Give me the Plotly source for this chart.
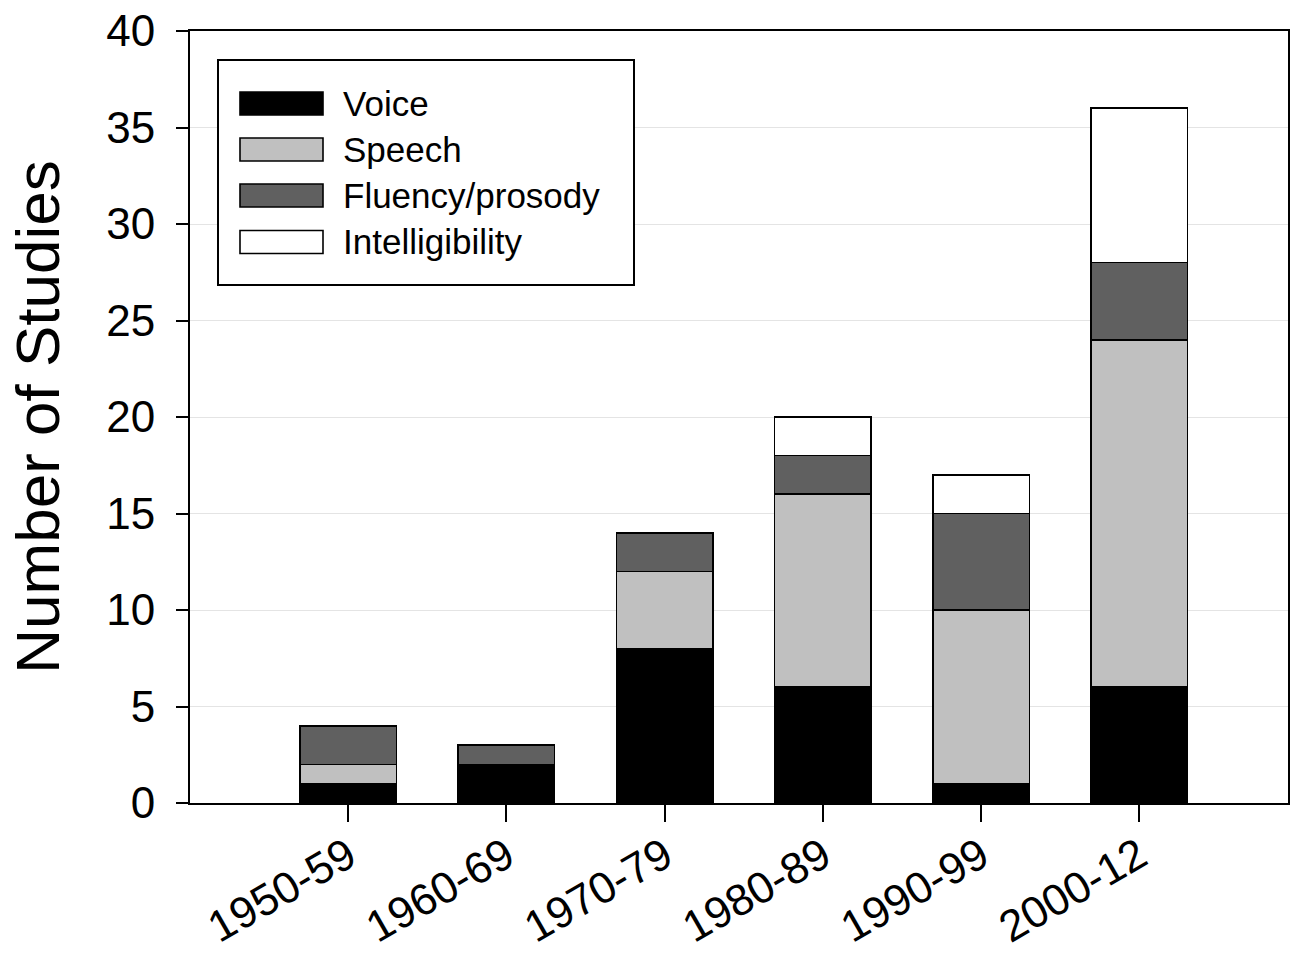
import plotly.graph_objects as go

# ---- data ----
decades = ["1950-59", "1960-69", "1970-79", "1980-89", "1990-99", "2000-12"]
series_names = ["Voice", "Speech", "Fluency/prosody", "Intelligibility"]
voice = [1, 2, 8, 6, 1, 6]
speech = [1, 0, 4, 10, 9, 18]
fluency = [2, 1, 2, 2, 5, 4]
intelligibility = [0, 0, 0, 2, 2, 8]
y_ticks = [0, 5, 10, 15, 20, 25, 30, 35, 40]

series_values = [voice, speech, fluency, intelligibility]
colors = ["#000000", "#c0c0c0", "#606060", "#ffffff"]

FONT = "Liberation Sans, Arial, sans-serif"
W, H = 1301, 957
L, R, T, B = 190, 13, 31, 154
pw, ph = W - L - R, H - T - B


def px_x(x):
    return (x - L) / pw


def px_y(y):
    return (H - B - y) / ph


fig = go.Figure()
for name, vals, col in zip(series_names, series_values, colors):
    fig.add_trace(go.Bar(
        x=decades, y=vals, name=name, width=0.61,
        marker=dict(color=col, line=dict(color="black", width=1.6)),
        showlegend=False,
    ))

# custom legend (wide rectangular swatches like the original)
shapes = [dict(type="rect", xref="paper", yref="paper",
               x0=px_x(218), x1=px_x(634), y0=px_y(285), y1=px_y(60),
               line=dict(color="black", width=2), fillcolor="white", layer="above")]
annotations = []
centers = [103.5, 149.5, 195.5, 242]
for name, col, cy in zip(series_names, colors, centers):
    shapes.append(dict(type="rect", xref="paper", yref="paper",
                       x0=px_x(240), x1=px_x(323), y0=px_y(cy + 11.5), y1=px_y(cy - 11.5),
                       line=dict(color="black", width=1.6), fillcolor=col, layer="above"))
    annotations.append(dict(xref="paper", yref="paper", x=px_x(341), y=px_y(cy),
                            text=name, showarrow=False, xanchor="left", yanchor="middle",
                            font=dict(family=FONT, size=35, color="black")))

fig.update_layout(
    width=W, height=H,
    margin=dict(l=L, r=R, t=T, b=B, pad=0),
    barmode="stack",
    plot_bgcolor="white", paper_bgcolor="white",
    font=dict(family=FONT, color="black"),
    shapes=shapes, annotations=annotations,
    xaxis=dict(
        type="category", range=[-1.0, 5.94], automargin=False,
        showline=True, mirror=True, linecolor="black", linewidth=2,
        ticks="outside", ticklen=17, tickwidth=2, tickcolor="black",
        tickangle=-30, tickfont=dict(family=FONT, size=44, color="black"),
        ticklabelstandoff=-9,
        showgrid=False, zeroline=False,
    ),
    yaxis=dict(
        range=[0, 40], tickvals=y_ticks, automargin=False,
        showline=True, mirror=True, linecolor="black", linewidth=2,
        ticks="outside", ticklen=12, tickwidth=2, tickcolor="black",
        ticklabelstandoff=12,
        tickfont=dict(family=FONT, size=44, color="black"),
        showgrid=True, gridcolor="#e4e4e4", gridwidth=1, zeroline=False,
        title=dict(text="Number of Studies", font=dict(family=FONT, size=62, color="black"),
                   standoff=27),
    ),
)

fig.write_html("out.html", config={"displayModeBar": False},
               post_script="document.body.style.margin='0';")
